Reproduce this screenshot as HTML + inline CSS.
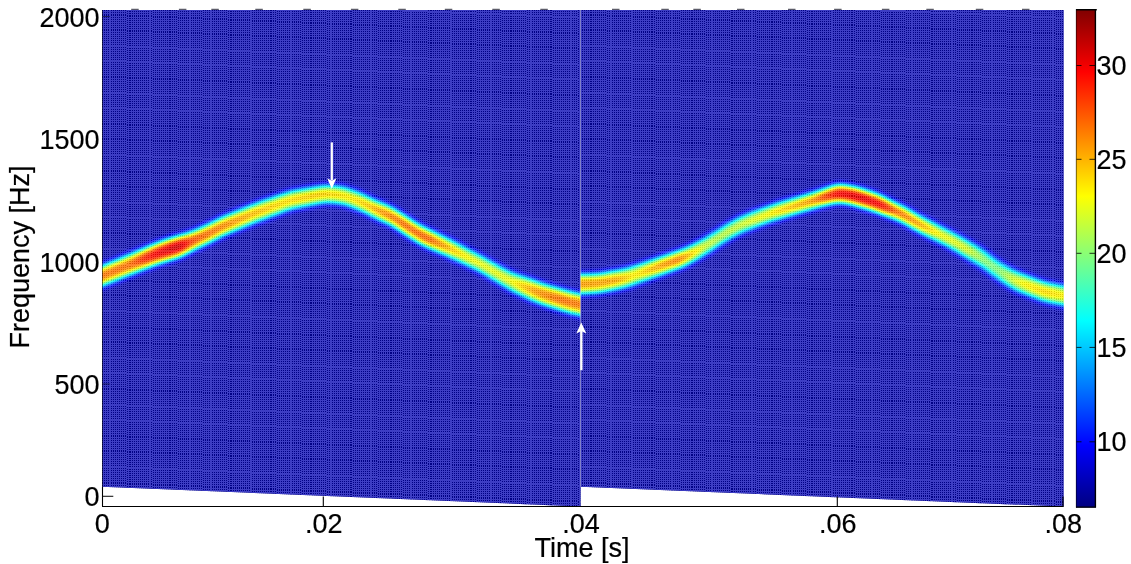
<!DOCTYPE html>
<html><head><meta charset="utf-8"><title>Spectrogram</title>
<style>
html,body{margin:0;padding:0;background:#fff;}
body{width:1131px;height:564px;position:relative;overflow:hidden;font-family:"Liberation Sans",sans-serif;}
svg{position:absolute;left:0;top:0;}
#mesh{position:absolute;left:0;top:0;width:1131px;height:564px;
-webkit-mask-image:repeating-linear-gradient(90deg,#000 0,#000 1.0525px,transparent 1.0525px,transparent 2.105px),repeating-linear-gradient(180deg,#000 0,#000 1.0685px,transparent 1.0685px,transparent 2.137px),repeating-linear-gradient(180deg,#000 0,#000 1.0685px,transparent 1.0685px,transparent 2.137px),repeating-linear-gradient(180deg,#000 0,#000 1.0685px,transparent 1.0685px,transparent 2.137px),repeating-linear-gradient(180deg,#000 0,#000 1.0685px,transparent 1.0685px,transparent 2.137px),repeating-linear-gradient(180deg,#000 0,#000 1.0685px,transparent 1.0685px,transparent 2.137px),repeating-linear-gradient(180deg,#000 0,#000 1.0685px,transparent 1.0685px,transparent 2.137px),repeating-linear-gradient(180deg,#000 0,#000 1.0685px,transparent 1.0685px,transparent 2.137px),repeating-linear-gradient(180deg,#000 0,#000 1.0685px,transparent 1.0685px,transparent 2.137px),repeating-linear-gradient(180deg,#000 0,#000 1.0685px,transparent 1.0685px,transparent 2.137px),repeating-linear-gradient(180deg,#000 0,#000 1.0685px,transparent 1.0685px,transparent 2.137px),repeating-linear-gradient(180deg,#000 0,#000 1.0685px,transparent 1.0685px,transparent 2.137px),repeating-linear-gradient(180deg,#000 0,#000 1.0685px,transparent 1.0685px,transparent 2.137px),repeating-linear-gradient(180deg,#000 0,#000 1.0685px,transparent 1.0685px,transparent 2.137px),repeating-linear-gradient(180deg,#000 0,#000 1.0685px,transparent 1.0685px,transparent 2.137px),repeating-linear-gradient(180deg,#000 0,#000 1.0685px,transparent 1.0685px,transparent 2.137px),repeating-linear-gradient(180deg,#000 0,#000 1.0685px,transparent 1.0685px,transparent 2.137px),repeating-linear-gradient(180deg,#000 0,#000 1.0685px,transparent 1.0685px,transparent 2.137px),repeating-linear-gradient(180deg,#000 0,#000 1.0685px,transparent 1.0685px,transparent 2.137px),repeating-linear-gradient(180deg,#000 0,#000 1.0685px,transparent 1.0685px,transparent 2.137px),repeating-linear-gradient(180deg,#000 0,#000 1.0685px,transparent 1.0685px,transparent 2.137px),repeating-linear-gradient(180deg,#000 0,#000 1.0685px,transparent 1.0685px,transparent 2.137px),repeating-linear-gradient(180deg,#000 0,#000 1.0685px,transparent 1.0685px,transparent 2.137px),repeating-linear-gradient(180deg,#000 0,#000 1.0685px,transparent 1.0685px,transparent 2.137px),repeating-linear-gradient(180deg,#000 0,#000 1.0685px,transparent 1.0685px,transparent 2.137px),repeating-linear-gradient(180deg,#000 0,#000 1.0685px,transparent 1.0685px,transparent 2.137px),repeating-linear-gradient(180deg,#000 0,#000 1.0685px,transparent 1.0685px,transparent 2.137px),repeating-linear-gradient(180deg,#000 0,#000 1.0685px,transparent 1.0685px,transparent 2.137px),repeating-linear-gradient(180deg,#000 0,#000 1.0685px,transparent 1.0685px,transparent 2.137px),repeating-linear-gradient(180deg,#000 0,#000 1.0685px,transparent 1.0685px,transparent 2.137px),repeating-linear-gradient(180deg,#000 0,#000 1.0685px,transparent 1.0685px,transparent 2.137px),repeating-linear-gradient(180deg,#000 0,#000 1.0685px,transparent 1.0685px,transparent 2.137px),repeating-linear-gradient(180deg,#000 0,#000 1.0685px,transparent 1.0685px,transparent 2.137px),repeating-linear-gradient(180deg,#000 0,#000 1.0685px,transparent 1.0685px,transparent 2.137px),repeating-linear-gradient(180deg,#000 0,#000 1.0685px,transparent 1.0685px,transparent 2.137px),repeating-linear-gradient(180deg,#000 0,#000 1.0685px,transparent 1.0685px,transparent 2.137px),repeating-linear-gradient(180deg,#000 0,#000 1.0685px,transparent 1.0685px,transparent 2.137px),repeating-linear-gradient(180deg,#000 0,#000 1.0685px,transparent 1.0685px,transparent 2.137px),repeating-linear-gradient(180deg,#000 0,#000 1.0685px,transparent 1.0685px,transparent 2.137px),repeating-linear-gradient(180deg,#000 0,#000 1.0685px,transparent 1.0685px,transparent 2.137px),repeating-linear-gradient(180deg,#000 0,#000 1.0685px,transparent 1.0685px,transparent 2.137px);mask-image:repeating-linear-gradient(90deg,#000 0,#000 1.0525px,transparent 1.0525px,transparent 2.105px),repeating-linear-gradient(180deg,#000 0,#000 1.0685px,transparent 1.0685px,transparent 2.137px),repeating-linear-gradient(180deg,#000 0,#000 1.0685px,transparent 1.0685px,transparent 2.137px),repeating-linear-gradient(180deg,#000 0,#000 1.0685px,transparent 1.0685px,transparent 2.137px),repeating-linear-gradient(180deg,#000 0,#000 1.0685px,transparent 1.0685px,transparent 2.137px),repeating-linear-gradient(180deg,#000 0,#000 1.0685px,transparent 1.0685px,transparent 2.137px),repeating-linear-gradient(180deg,#000 0,#000 1.0685px,transparent 1.0685px,transparent 2.137px),repeating-linear-gradient(180deg,#000 0,#000 1.0685px,transparent 1.0685px,transparent 2.137px),repeating-linear-gradient(180deg,#000 0,#000 1.0685px,transparent 1.0685px,transparent 2.137px),repeating-linear-gradient(180deg,#000 0,#000 1.0685px,transparent 1.0685px,transparent 2.137px),repeating-linear-gradient(180deg,#000 0,#000 1.0685px,transparent 1.0685px,transparent 2.137px),repeating-linear-gradient(180deg,#000 0,#000 1.0685px,transparent 1.0685px,transparent 2.137px),repeating-linear-gradient(180deg,#000 0,#000 1.0685px,transparent 1.0685px,transparent 2.137px),repeating-linear-gradient(180deg,#000 0,#000 1.0685px,transparent 1.0685px,transparent 2.137px),repeating-linear-gradient(180deg,#000 0,#000 1.0685px,transparent 1.0685px,transparent 2.137px),repeating-linear-gradient(180deg,#000 0,#000 1.0685px,transparent 1.0685px,transparent 2.137px),repeating-linear-gradient(180deg,#000 0,#000 1.0685px,transparent 1.0685px,transparent 2.137px),repeating-linear-gradient(180deg,#000 0,#000 1.0685px,transparent 1.0685px,transparent 2.137px),repeating-linear-gradient(180deg,#000 0,#000 1.0685px,transparent 1.0685px,transparent 2.137px),repeating-linear-gradient(180deg,#000 0,#000 1.0685px,transparent 1.0685px,transparent 2.137px),repeating-linear-gradient(180deg,#000 0,#000 1.0685px,transparent 1.0685px,transparent 2.137px),repeating-linear-gradient(180deg,#000 0,#000 1.0685px,transparent 1.0685px,transparent 2.137px),repeating-linear-gradient(180deg,#000 0,#000 1.0685px,transparent 1.0685px,transparent 2.137px),repeating-linear-gradient(180deg,#000 0,#000 1.0685px,transparent 1.0685px,transparent 2.137px),repeating-linear-gradient(180deg,#000 0,#000 1.0685px,transparent 1.0685px,transparent 2.137px),repeating-linear-gradient(180deg,#000 0,#000 1.0685px,transparent 1.0685px,transparent 2.137px),repeating-linear-gradient(180deg,#000 0,#000 1.0685px,transparent 1.0685px,transparent 2.137px),repeating-linear-gradient(180deg,#000 0,#000 1.0685px,transparent 1.0685px,transparent 2.137px),repeating-linear-gradient(180deg,#000 0,#000 1.0685px,transparent 1.0685px,transparent 2.137px),repeating-linear-gradient(180deg,#000 0,#000 1.0685px,transparent 1.0685px,transparent 2.137px),repeating-linear-gradient(180deg,#000 0,#000 1.0685px,transparent 1.0685px,transparent 2.137px),repeating-linear-gradient(180deg,#000 0,#000 1.0685px,transparent 1.0685px,transparent 2.137px),repeating-linear-gradient(180deg,#000 0,#000 1.0685px,transparent 1.0685px,transparent 2.137px),repeating-linear-gradient(180deg,#000 0,#000 1.0685px,transparent 1.0685px,transparent 2.137px),repeating-linear-gradient(180deg,#000 0,#000 1.0685px,transparent 1.0685px,transparent 2.137px),repeating-linear-gradient(180deg,#000 0,#000 1.0685px,transparent 1.0685px,transparent 2.137px),repeating-linear-gradient(180deg,#000 0,#000 1.0685px,transparent 1.0685px,transparent 2.137px),repeating-linear-gradient(180deg,#000 0,#000 1.0685px,transparent 1.0685px,transparent 2.137px),repeating-linear-gradient(180deg,#000 0,#000 1.0685px,transparent 1.0685px,transparent 2.137px),repeating-linear-gradient(180deg,#000 0,#000 1.0685px,transparent 1.0685px,transparent 2.137px),repeating-linear-gradient(180deg,#000 0,#000 1.0685px,transparent 1.0685px,transparent 2.137px);
-webkit-mask-size:100% 100%,25px 640px,25px 640px,25px 640px,25px 640px,25px 640px,25px 640px,25px 640px,25px 640px,25px 640px,25px 640px,25px 640px,25px 640px,25px 640px,25px 640px,25px 640px,25px 640px,25px 640px,25px 640px,25px 640px,4px 640px,25px 640px,25px 640px,25px 640px,25px 640px,25px 640px,25px 640px,25px 640px,25px 640px,25px 640px,25px 640px,25px 640px,25px 640px,25px 640px,25px 640px,25px 640px,25px 640px,25px 640px,25px 640px,25px 640px,8px 640px;mask-size:100% 100%,25px 640px,25px 640px,25px 640px,25px 640px,25px 640px,25px 640px,25px 640px,25px 640px,25px 640px,25px 640px,25px 640px,25px 640px,25px 640px,25px 640px,25px 640px,25px 640px,25px 640px,25px 640px,25px 640px,4px 640px,25px 640px,25px 640px,25px 640px,25px 640px,25px 640px,25px 640px,25px 640px,25px 640px,25px 640px,25px 640px,25px 640px,25px 640px,25px 640px,25px 640px,25px 640px,25px 640px,25px 640px,25px 640px,25px 640px,8px 640px;
-webkit-mask-position:0 0,102px -40px,127px -39px,152px -38px,177px -37px,202px -36px,227px -35px,252px -34px,277px -33px,302px -32px,327px -31px,352px -30px,377px -29px,402px -28px,427px -27px,452px -26px,477px -25px,502px -24px,527px -23px,552px -22px,577px -21px,581px -40px,606px -39px,631px -38px,656px -37px,681px -36px,706px -35px,731px -34px,756px -33px,781px -32px,806px -31px,831px -30px,856px -29px,881px -28px,906px -27px,931px -26px,956px -25px,981px -24px,1006px -23px,1031px -22px,1056px -21px;mask-position:0 0,102px -40px,127px -39px,152px -38px,177px -37px,202px -36px,227px -35px,252px -34px,277px -33px,302px -32px,327px -31px,352px -30px,377px -29px,402px -28px,427px -27px,452px -26px,477px -25px,502px -24px,527px -23px,552px -22px,577px -21px,581px -40px,606px -39px,631px -38px,656px -37px,681px -36px,706px -35px,731px -34px,756px -33px,781px -32px,806px -31px,831px -30px,856px -29px,881px -28px,906px -27px,931px -26px,956px -25px,981px -24px,1006px -23px,1031px -22px,1056px -21px;
-webkit-mask-repeat:no-repeat;mask-repeat:no-repeat;}
text{font-family:"Liberation Sans",sans-serif;font-size:27px;fill:#000;stroke:#000;stroke-width:.2px;}
</style></head><body>

<svg width="1131" height="564" viewBox="0 0 1131 564">
<defs>
<filter id="fd" filterUnits="userSpaceOnUse" x="0" y="0" width="1131" height="564" color-interpolation-filters="sRGB">
<feGaussianBlur stdDeviation="3"/>
<feComponentTransfer><feFuncR type="linear" slope="1"/><feFuncG type="linear" slope="1"/><feFuncB type="linear" slope="1"/></feComponentTransfer>
<feComponentTransfer>
<feFuncR type="table" tableValues="0.000 0.000 0.000 0.000 0.000 0.000 0.000 0.000 0.000 0.000 0.000 0.000 0.000 0.000 0.000 0.000 0.000 0.000 0.000 0.000 0.000 0.000 0.000 0.000 0.000 0.000 0.000 0.000 0.000 0.000 0.000 0.000 0.036 0.072 0.108 0.144 0.180 0.216 0.252 0.288 0.324 0.360 0.396 0.433 0.469 0.505 0.541 0.577 0.613 0.649 0.685 0.721 0.757 0.793 0.829 0.860 0.860 0.860 0.860 0.860 0.860 0.860 0.860 0.860 0.860 0.860 0.860 0.860 0.860 0.860 0.860 0.860 0.860 0.860 0.860 0.860 0.860 0.860 0.860 0.849 0.813 0.777 0.741 0.705 0.669 0.633 0.597 0.561 0.525 0.489 0.453 0.430 0.430 0.430 0.430 0.430"/>
<feFuncG type="table" tableValues="0.000 0.000 0.000 0.000 0.000 0.000 0.000 0.000 0.027 0.060 0.094 0.127 0.162 0.197 0.232 0.268 0.305 0.341 0.379 0.416 0.454 0.492 0.530 0.568 0.605 0.642 0.679 0.716 0.752 0.788 0.824 0.860 0.860 0.860 0.860 0.860 0.860 0.860 0.860 0.860 0.860 0.860 0.860 0.860 0.860 0.860 0.860 0.860 0.860 0.860 0.860 0.860 0.860 0.860 0.860 0.855 0.819 0.783 0.747 0.711 0.674 0.638 0.602 0.566 0.530 0.494 0.458 0.422 0.386 0.350 0.314 0.278 0.242 0.206 0.170 0.134 0.098 0.061 0.025 0.000 0.000 0.000 0.000 0.000 0.000 0.000 0.000 0.000 0.000 0.000 0.000 0.000 0.000 0.000 0.000 0.000"/>
<feFuncB type="table" tableValues="0.525 0.557 0.589 0.623 0.657 0.691 0.727 0.764 0.774 0.779 0.785 0.791 0.797 0.803 0.809 0.815 0.821 0.827 0.833 0.838 0.843 0.847 0.851 0.854 0.857 0.859 0.860 0.860 0.860 0.860 0.860 0.860 0.824 0.788 0.752 0.716 0.680 0.644 0.608 0.572 0.536 0.500 0.464 0.427 0.391 0.355 0.319 0.283 0.247 0.211 0.175 0.139 0.103 0.067 0.031 0.000 0.000 0.000 0.000 0.000 0.000 0.000 0.000 0.000 0.000 0.000 0.000 0.000 0.000 0.000 0.000 0.000 0.000 0.000 0.000 0.000 0.000 0.000 0.000 0.000 0.000 0.000 0.000 0.000 0.000 0.000 0.000 0.000 0.000 0.000 0.000 0.000 0.000 0.000 0.000 0.000"/>
</feComponentTransfer>
</filter>
<filter id="fl" filterUnits="userSpaceOnUse" x="0" y="0" width="1131" height="564" color-interpolation-filters="sRGB">
<feGaussianBlur stdDeviation="3"/>
<feComponentTransfer><feFuncR type="linear" slope="1"/><feFuncG type="linear" slope="1"/><feFuncB type="linear" slope="1"/></feComponentTransfer>
<feComponentTransfer>
<feFuncR type="table" tableValues="0.240 0.240 0.239 0.238 0.236 0.234 0.232 0.230 0.227 0.224 0.221 0.218 0.215 0.211 0.208 0.204 0.201 0.198 0.195 0.192 0.189 0.187 0.185 0.183 0.182 0.181 0.180 0.180 0.180 0.180 0.180 0.180 0.214 0.249 0.283 0.317 0.352 0.386 0.420 0.455 0.489 0.524 0.558 0.592 0.627 0.661 0.696 0.730 0.764 0.799 0.833 0.867 0.902 0.936 0.971 1.000 1.000 1.000 1.000 1.000 1.000 1.000 1.000 1.000 1.000 1.000 1.000 1.000 1.000 1.000 1.000 1.000 1.000 1.000 1.000 1.000 1.000 1.000 1.000 0.990 0.955 0.921 0.887 0.852 0.818 0.784 0.749 0.715 0.680 0.646 0.612 0.590 0.590 0.590 0.590 0.590"/>
<feFuncG type="table" tableValues="0.240 0.240 0.239 0.238 0.236 0.234 0.232 0.230 0.254 0.284 0.314 0.344 0.374 0.405 0.435 0.466 0.497 0.529 0.561 0.593 0.626 0.659 0.692 0.726 0.760 0.794 0.828 0.862 0.897 0.931 0.965 1.000 1.000 1.000 1.000 1.000 1.000 1.000 1.000 1.000 1.000 1.000 1.000 1.000 1.000 1.000 1.000 1.000 1.000 1.000 1.000 1.000 1.000 1.000 1.000 0.995 0.961 0.926 0.892 0.857 0.823 0.789 0.754 0.720 0.686 0.651 0.617 0.582 0.548 0.514 0.479 0.445 0.411 0.376 0.342 0.307 0.273 0.239 0.204 0.180 0.180 0.180 0.180 0.180 0.180 0.180 0.180 0.180 0.180 0.180 0.180 0.180 0.180 0.180 0.180 0.180"/>
<feFuncB type="table" tableValues="0.772 0.804 0.836 0.867 0.899 0.931 0.963 0.995 1.000 1.000 1.000 1.000 1.000 1.000 1.000 1.000 1.000 1.000 1.000 1.000 1.000 1.000 1.000 1.000 1.000 1.000 1.000 1.000 1.000 1.000 1.000 1.000 0.966 0.931 0.897 0.863 0.828 0.794 0.760 0.725 0.691 0.656 0.622 0.588 0.553 0.519 0.484 0.450 0.416 0.381 0.347 0.313 0.278 0.244 0.209 0.180 0.180 0.180 0.180 0.180 0.180 0.180 0.180 0.180 0.180 0.180 0.180 0.180 0.180 0.180 0.180 0.180 0.180 0.180 0.180 0.180 0.180 0.180 0.180 0.180 0.180 0.180 0.180 0.180 0.180 0.180 0.180 0.180 0.180 0.180 0.180 0.180 0.180 0.180 0.180 0.180"/>
</feComponentTransfer>
</filter>
<clipPath id="cl"><path d="M102.0 9.9L580.6 9.9L580.6 506.5L102.0 486.7Z"/></clipPath>
<clipPath id="cr"><path d="M580.6 9.9L1063.5 9.9L1063.5 506.5L580.6 486.7Z"/></clipPath>
<linearGradient id="cb" x1="0" y1="0" x2="0" y2="1">
<stop offset="0" stop-color="rgb(128,0,0)"/><stop offset="0.125" stop-color="rgb(255,0,0)"/><stop offset="0.375" stop-color="rgb(255,255,0)"/><stop offset="0.625" stop-color="rgb(0,255,255)"/><stop offset="0.875" stop-color="rgb(0,0,255)"/><stop offset="1" stop-color="rgb(0,0,128)"/>
</linearGradient>
<linearGradient id="al" gradientUnits="userSpaceOnUse" x1="60" y1="0" x2="624" y2="0"><stop offset="0.0745" stop-color="rgb(191,191,191)"/><stop offset="0.1241" stop-color="rgb(193,193,193)"/><stop offset="0.1560" stop-color="rgb(217,217,217)"/><stop offset="0.1862" stop-color="rgb(228,228,228)"/><stop offset="0.2128" stop-color="rgb(234,234,234)"/><stop offset="0.2305" stop-color="rgb(209,209,209)"/><stop offset="0.2447" stop-color="rgb(199,199,199)"/><stop offset="0.2837" stop-color="rgb(189,189,189)"/><stop offset="0.3457" stop-color="rgb(172,172,172)"/><stop offset="0.3989" stop-color="rgb(164,164,164)"/><stop offset="0.4610" stop-color="rgb(169,169,169)"/><stop offset="0.5142" stop-color="rgb(161,161,161)"/><stop offset="0.5496" stop-color="rgb(174,174,174)"/><stop offset="0.5851" stop-color="rgb(191,191,191)"/><stop offset="0.6117" stop-color="rgb(199,199,199)"/><stop offset="0.6560" stop-color="rgb(199,199,199)"/><stop offset="0.6915" stop-color="rgb(174,174,174)"/><stop offset="0.7270" stop-color="rgb(158,158,158)"/><stop offset="0.7979" stop-color="rgb(153,153,153)"/><stop offset="0.8422" stop-color="rgb(180,180,180)"/><stop offset="0.8865" stop-color="rgb(191,191,191)"/><stop offset="0.9220" stop-color="rgb(188,188,188)"/></linearGradient>
<linearGradient id="ar" gradientUnits="userSpaceOnUse" x1="540" y1="0" x2="1104" y2="0"><stop offset="0.0745" stop-color="rgb(180,180,180)"/><stop offset="0.1330" stop-color="rgb(177,177,177)"/><stop offset="0.1684" stop-color="rgb(158,158,158)"/><stop offset="0.2128" stop-color="rgb(180,180,180)"/><stop offset="0.2447" stop-color="rgb(191,191,191)"/><stop offset="0.2695" stop-color="rgb(169,169,169)"/><stop offset="0.2926" stop-color="rgb(148,148,148)"/><stop offset="0.3191" stop-color="rgb(142,142,142)"/><stop offset="0.3635" stop-color="rgb(148,148,148)"/><stop offset="0.3989" stop-color="rgb(158,158,158)"/><stop offset="0.4433" stop-color="rgb(174,174,174)"/><stop offset="0.4823" stop-color="rgb(185,185,185)"/><stop offset="0.5071" stop-color="rgb(212,212,212)"/><stop offset="0.5284" stop-color="rgb(225,225,225)"/><stop offset="0.5638" stop-color="rgb(231,231,231)"/><stop offset="0.6064" stop-color="rgb(225,225,225)"/><stop offset="0.6294" stop-color="rgb(201,201,201)"/><stop offset="0.6649" stop-color="rgb(188,188,188)"/><stop offset="0.7092" stop-color="rgb(158,158,158)"/><stop offset="0.7571" stop-color="rgb(150,150,150)"/><stop offset="0.7837" stop-color="rgb(129,129,129)"/><stop offset="0.8103" stop-color="rgb(123,123,123)"/><stop offset="0.8333" stop-color="rgb(142,142,142)"/><stop offset="0.8599" stop-color="rgb(158,158,158)"/><stop offset="0.8954" stop-color="rgb(164,164,164)"/><stop offset="0.9273" stop-color="rgb(158,158,158)"/></linearGradient>
<g id="gl"><rect x="0" y="0" width="1131" height="564" fill="#000"/>
<path d="M60.0 282.4L63.0 281.6L66.0 280.5L69.0 279.2L72.0 278.0L75.0 276.8L78.0 275.6L81.0 274.3L84.0 273.1L87.0 271.9L90.0 270.6L93.0 269.4L96.0 268.2L99.0 267.0L102.0 265.7L105.0 264.5L108.0 263.3L111.0 262.0L114.0 260.8L117.0 259.5L120.0 258.3L123.0 257.0L126.0 255.8L129.0 254.5L132.0 253.3L135.0 252.1L138.0 250.8L141.0 249.6L144.0 248.3L147.0 247.0L150.0 245.8L153.0 244.6L156.0 243.3L159.0 242.2L162.0 241.1L165.0 240.1L168.0 239.1L171.0 238.1L174.0 237.2L177.0 236.2L180.0 235.2L183.0 234.5L186.0 233.6L189.0 232.6L192.0 231.4L195.0 230.1L198.0 228.8L201.0 227.4L204.0 226.0L207.0 224.6L210.0 223.2L213.0 221.7L216.0 220.1L219.0 218.5L222.0 217.1L225.0 215.8L228.0 214.5L231.0 213.3L234.0 212.0L237.0 210.8L240.0 209.5L243.0 208.3L246.0 207.0L249.0 205.8L252.0 204.6L255.0 203.4L258.0 202.2L261.0 201.1L264.0 200.1L267.0 199.0L270.0 197.9L273.0 196.9L276.0 195.8L279.0 194.8L282.0 193.8L285.0 192.7L288.0 191.8L291.0 190.9L294.0 190.2L297.0 189.7L300.0 189.2L303.0 188.7L306.0 188.2L309.0 187.7L312.0 187.2L315.0 186.8L318.0 186.3L321.0 185.8L324.0 185.5L327.0 185.3L330.0 185.4L333.0 185.6L336.0 185.9L339.0 186.2L342.0 186.6L345.0 187.3L348.0 188.2L351.0 189.3L354.0 190.4L357.0 191.6L360.0 192.8L363.0 194.1L366.0 195.5L369.0 196.9L372.0 198.4L375.0 199.9L378.0 201.3L381.0 202.6L384.0 203.7L387.0 205.0L390.0 206.3L393.0 208.0L396.0 209.8L399.0 211.8L402.0 213.7L405.0 215.6L408.0 217.6L411.0 219.5L414.0 221.4L417.0 223.3L420.0 225.0L423.0 226.6L426.0 228.1L429.0 229.5L432.0 230.9L435.0 232.3L438.0 233.7L441.0 235.2L444.0 236.6L447.0 238.0L450.0 239.4L453.0 240.9L456.0 242.5L459.0 244.0L462.0 245.6L465.0 247.2L468.0 248.7L471.0 250.3L474.0 251.8L477.0 253.4L480.0 255.1L483.0 256.6L486.0 258.3L489.0 259.9L492.0 261.6L495.0 263.2L498.0 264.9L501.0 266.5L504.0 268.2L507.0 269.8L510.0 271.3L513.0 272.6L516.0 273.7L519.0 274.8L522.0 275.8L525.0 276.8L528.0 277.9L531.0 279.0L534.0 280.1L537.0 281.3L540.0 282.4L543.0 283.4L546.0 284.4L549.0 285.3L552.0 286.2L555.0 287.1L558.0 288.0L561.0 288.8L564.0 289.7L567.0 290.6L570.0 291.4L573.0 292.1L576.0 292.8L579.0 293.4L582.0 294.0L585.0 294.6L588.0 295.2L591.0 295.8L594.0 296.4L597.0 297.0L600.0 297.6L603.0 298.2L606.0 298.8L609.0 299.4L612.0 300.0L615.0 300.6L618.0 301.2L621.0 301.7L624.0 302.1L624.0 324.0L621.0 323.6L618.0 323.0L615.0 322.4L612.0 321.8L609.0 321.2L606.0 320.6L603.0 320.0L600.0 319.4L597.0 318.8L594.0 318.2L591.0 317.6L588.0 317.0L585.0 316.4L582.0 315.8L579.0 315.2L576.0 314.6L573.0 313.9L570.0 313.2L567.0 312.3L564.0 311.4L561.0 310.5L558.0 309.6L555.0 308.6L552.0 307.7L549.0 306.8L546.0 305.8L543.0 304.9L540.0 303.8L537.0 302.7L534.0 301.5L531.0 300.2L528.0 298.9L525.0 297.6L522.0 296.2L519.0 294.8L516.0 293.4L513.0 291.9L510.0 290.3L507.0 288.6L504.0 286.8L501.0 285.0L498.0 283.1L495.0 281.3L492.0 279.4L489.0 277.6L486.0 275.7L483.0 273.9L480.0 272.2L477.0 270.6L474.0 269.1L471.0 267.7L468.0 266.2L465.0 264.7L462.0 263.3L459.0 261.8L456.0 260.4L453.0 258.9L450.0 257.5L447.0 256.1L444.0 254.8L441.0 253.5L438.0 252.2L435.0 250.9L432.0 249.6L429.0 248.2L426.0 246.9L423.0 245.5L420.0 244.0L417.0 242.2L414.0 240.3L411.0 238.3L408.0 236.4L405.0 234.4L402.0 232.4L399.0 230.4L396.0 228.4L393.0 226.5L390.0 224.8L387.0 223.4L384.0 222.2L381.0 220.9L378.0 219.6L375.0 218.1L372.0 216.6L369.0 215.1L366.0 213.6L363.0 212.1L360.0 210.8L357.0 209.6L354.0 208.4L351.0 207.2L348.0 206.0L345.0 205.1L342.0 204.4L339.0 203.9L336.0 203.5L333.0 203.2L330.0 202.9L327.0 202.8L324.0 203.0L321.0 203.5L318.0 204.0L315.0 204.6L312.0 205.2L309.0 205.8L306.0 206.4L303.0 207.0L300.0 207.6L297.0 208.2L294.0 208.8L291.0 209.6L288.0 210.5L285.0 211.6L282.0 212.7L279.0 213.9L276.0 215.0L273.0 216.1L270.0 217.3L267.0 218.4L264.0 219.4L261.0 220.5L258.0 221.6L255.0 222.8L252.0 224.0L249.0 225.2L246.0 226.4L243.0 227.7L240.0 228.9L237.0 230.1L234.0 231.4L231.0 232.6L228.0 233.9L225.0 235.1L222.0 236.5L219.0 237.9L216.0 239.5L213.0 241.0L210.0 242.5L207.0 244.0L204.0 245.4L201.0 246.8L198.0 248.2L195.0 249.6L192.0 251.1L189.0 252.6L186.0 254.2L183.0 255.6L180.0 257.0L177.0 258.0L174.0 258.9L171.0 259.9L168.0 260.8L165.0 261.8L162.0 262.7L159.0 263.6L156.0 264.7L153.0 265.8L150.0 266.9L147.0 268.2L144.0 269.4L141.0 270.5L138.0 271.7L135.0 272.9L132.0 274.2L129.0 275.4L126.0 276.6L123.0 277.8L120.0 279.0L117.0 280.2L114.0 281.4L111.0 282.6L108.0 283.8L105.0 285.0L102.0 286.3L99.0 287.5L96.0 288.7L93.0 289.9L90.0 291.2L87.0 292.4L84.0 293.6L81.0 294.9L78.0 296.1L75.0 297.3L72.0 298.5L69.0 299.8L66.0 301.0L63.0 302.1L60.0 302.9Z" fill="url(#al)" fill-opacity="0.7"/>
<path d="M60.0 286.2L63.0 285.3L66.0 284.2L69.0 283.0L72.0 281.8L75.0 280.6L78.0 279.3L81.0 278.1L84.0 276.9L87.0 275.7L90.0 274.4L93.0 273.2L96.0 272.0L99.0 270.7L102.0 269.5L105.0 268.3L108.0 267.0L111.0 265.8L114.0 264.6L117.0 263.3L120.0 262.1L123.0 260.9L126.0 259.6L129.0 258.4L132.0 257.1L135.0 255.9L138.0 254.7L141.0 253.4L144.0 252.2L147.0 250.9L150.0 249.7L153.0 248.5L156.0 247.3L159.0 246.1L162.0 245.1L165.0 244.1L168.0 243.1L171.0 242.1L174.0 241.2L177.0 240.2L180.0 239.2L183.0 238.4L186.0 237.4L189.0 236.3L192.0 235.0L195.0 233.7L198.0 232.3L201.0 231.0L204.0 229.6L207.0 228.2L210.0 226.7L213.0 225.2L216.0 223.7L219.0 222.1L222.0 220.7L225.0 219.3L228.0 218.1L231.0 216.8L234.0 215.6L237.0 214.3L240.0 213.1L243.0 211.9L246.0 210.6L249.0 209.4L252.0 208.1L255.0 207.0L258.0 205.8L261.0 204.7L264.0 203.6L267.0 202.5L270.0 201.5L273.0 200.4L276.0 199.4L279.0 198.3L282.0 197.3L285.0 196.2L288.0 195.2L291.0 194.3L294.0 193.7L297.0 193.1L300.0 192.6L303.0 192.1L306.0 191.6L309.0 191.1L312.0 190.6L315.0 190.0L318.0 189.5L321.0 189.1L324.0 188.7L327.0 188.6L330.0 188.6L333.0 188.8L336.0 189.1L339.0 189.4L342.0 189.9L345.0 190.6L348.0 191.5L351.0 192.6L354.0 193.7L357.0 194.9L360.0 196.1L363.0 197.4L366.0 198.8L369.0 200.3L372.0 201.7L375.0 203.2L378.0 204.6L381.0 205.9L384.0 207.1L387.0 208.4L390.0 209.7L393.0 211.4L396.0 213.2L399.0 215.2L402.0 217.1L405.0 219.1L408.0 221.0L411.0 223.0L414.0 224.9L417.0 226.8L420.0 228.5L423.0 230.1L426.0 231.6L429.0 233.0L432.0 234.4L435.0 235.8L438.0 237.1L441.0 238.5L444.0 239.9L447.0 241.3L450.0 242.8L453.0 244.3L456.0 245.8L459.0 247.3L462.0 248.9L465.0 250.4L468.0 251.9L471.0 253.5L474.0 255.0L477.0 256.6L480.0 258.2L483.0 259.8L486.0 261.5L489.0 263.2L492.0 264.9L495.0 266.6L498.0 268.2L501.0 269.9L504.0 271.6L507.0 273.3L510.0 274.8L513.0 276.2L516.0 277.4L519.0 278.5L522.0 279.6L525.0 280.7L528.0 281.8L531.0 282.9L534.0 284.1L537.0 285.2L540.0 286.3L543.0 287.4L546.0 288.3L549.0 289.2L552.0 290.1L555.0 291.0L558.0 291.9L561.0 292.8L564.0 293.7L567.0 294.6L570.0 295.4L573.0 296.2L576.0 296.8L579.0 297.4L582.0 298.0L585.0 298.6L588.0 299.2L591.0 299.8L594.0 300.4L597.0 301.0L600.0 301.6L603.0 302.2L606.0 302.8L609.0 303.4L612.0 304.0L615.0 304.6L618.0 305.2L621.0 305.7L624.0 306.1L624.0 319.9L621.0 319.5L618.0 319.0L615.0 318.4L612.0 317.8L609.0 317.2L606.0 316.6L603.0 316.0L600.0 315.4L597.0 314.8L594.0 314.2L591.0 313.6L588.0 313.0L585.0 312.4L582.0 311.8L579.0 311.2L576.0 310.6L573.0 309.9L570.0 309.2L567.0 308.3L564.0 307.4L561.0 306.5L558.0 305.6L555.0 304.7L552.0 303.7L549.0 302.8L546.0 301.9L543.0 300.9L540.0 299.9L537.0 298.7L534.0 297.5L531.0 296.3L528.0 295.0L525.0 293.7L522.0 292.4L519.0 291.1L516.0 289.8L513.0 288.4L510.0 286.8L507.0 285.2L504.0 283.4L501.0 281.6L498.0 279.8L495.0 278.0L492.0 276.1L489.0 274.3L486.0 272.5L483.0 270.7L480.0 269.0L477.0 267.4L474.0 265.9L471.0 264.5L468.0 263.0L465.0 261.5L462.0 260.0L459.0 258.5L456.0 257.1L453.0 255.6L450.0 254.2L447.0 252.8L444.0 251.4L441.0 250.1L438.0 248.8L435.0 247.4L432.0 246.1L429.0 244.8L426.0 243.5L423.0 242.1L420.0 240.5L417.0 238.8L414.0 236.8L411.0 234.9L408.0 232.9L405.0 230.9L402.0 228.9L399.0 227.0L396.0 225.0L393.0 223.1L390.0 221.4L387.0 220.0L384.0 218.8L381.0 217.5L378.0 216.2L375.0 214.8L372.0 213.3L369.0 211.7L366.0 210.2L363.0 208.8L360.0 207.5L357.0 206.2L354.0 205.0L351.0 203.9L348.0 202.7L345.0 201.8L342.0 201.1L339.0 200.6L336.0 200.3L333.0 200.0L330.0 199.7L327.0 199.6L324.0 199.8L321.0 200.2L318.0 200.7L315.0 201.3L312.0 201.9L309.0 202.5L306.0 203.0L303.0 203.6L300.0 204.2L297.0 204.8L294.0 205.4L291.0 206.1L288.0 207.1L285.0 208.1L282.0 209.2L279.0 210.4L276.0 211.5L273.0 212.6L270.0 213.7L267.0 214.8L264.0 215.9L261.0 217.0L258.0 218.1L255.0 219.2L252.0 220.4L249.0 221.6L246.0 222.8L243.0 224.1L240.0 225.3L237.0 226.6L234.0 227.8L231.0 229.1L228.0 230.3L225.0 231.6L222.0 232.9L219.0 234.3L216.0 235.9L213.0 237.5L210.0 239.0L207.0 240.4L204.0 241.8L201.0 243.2L198.0 244.6L195.0 246.0L192.0 247.5L189.0 248.9L186.0 250.4L183.0 251.7L180.0 253.0L177.0 254.0L174.0 254.9L171.0 255.9L168.0 256.8L165.0 257.8L162.0 258.7L159.0 259.7L156.0 260.7L153.0 261.9L150.0 263.0L147.0 264.3L144.0 265.5L141.0 266.7L138.0 267.9L135.0 269.1L132.0 270.3L129.0 271.5L126.0 272.7L123.0 274.0L120.0 275.2L117.0 276.4L114.0 277.6L111.0 278.8L108.0 280.0L105.0 281.3L102.0 282.5L99.0 283.7L96.0 284.9L93.0 286.2L90.0 287.4L87.0 288.6L84.0 289.8L81.0 291.1L78.0 292.3L75.0 293.5L72.0 294.8L69.0 296.0L66.0 297.2L63.0 298.3L60.0 299.1Z" fill="url(#al)" fill-opacity="0.667"/>
<path d="M60.0 289.7L63.0 288.8L66.0 287.8L69.0 286.5L72.0 285.3L75.0 284.1L78.0 282.8L81.0 281.6L84.0 280.4L87.0 279.2L90.0 277.9L93.0 276.7L96.0 275.5L99.0 274.3L102.0 273.0L105.0 271.8L108.0 270.6L111.0 269.3L114.0 268.1L117.0 266.9L120.0 265.6L123.0 264.4L126.0 263.2L129.0 261.9L132.0 260.7L135.0 259.5L138.0 258.3L141.0 257.0L144.0 255.8L147.0 254.5L150.0 253.3L153.0 252.1L156.0 250.9L159.0 249.8L162.0 248.8L165.0 247.8L168.0 246.8L171.0 245.9L174.0 244.9L177.0 243.9L180.0 242.9L183.0 242.0L186.0 240.9L189.0 239.7L192.0 238.4L195.0 237.0L198.0 235.7L201.0 234.3L204.0 232.9L207.0 231.5L210.0 230.1L213.0 228.6L216.0 227.0L219.0 225.4L222.0 224.0L225.0 222.6L228.0 221.4L231.0 220.1L234.0 218.9L237.0 217.7L240.0 216.4L243.0 215.2L246.0 213.9L249.0 212.7L252.0 211.5L255.0 210.3L258.0 209.1L261.0 208.0L264.0 206.9L267.0 205.9L270.0 204.8L273.0 203.7L276.0 202.6L279.0 201.6L282.0 200.5L285.0 199.4L288.0 198.4L291.0 197.5L294.0 196.8L297.0 196.2L300.0 195.7L303.0 195.2L306.0 194.7L309.0 194.1L312.0 193.6L315.0 193.1L318.0 192.6L321.0 192.1L324.0 191.7L327.0 191.5L330.0 191.6L333.0 191.9L336.0 192.1L339.0 192.5L342.0 192.9L345.0 193.6L348.0 194.5L351.0 195.6L354.0 196.8L357.0 198.0L360.0 199.2L363.0 200.5L366.0 201.9L369.0 203.4L372.0 204.9L375.0 206.3L378.0 207.8L381.0 209.1L384.0 210.3L387.0 211.5L390.0 212.9L393.0 214.6L396.0 216.4L399.0 218.4L402.0 220.3L405.0 222.3L408.0 224.2L411.0 226.2L414.0 228.1L417.0 230.0L420.0 231.8L423.0 233.4L426.0 234.8L429.0 236.2L432.0 237.5L435.0 238.9L438.0 240.3L441.0 241.7L444.0 243.0L447.0 244.4L450.0 245.9L453.0 247.3L456.0 248.8L459.0 250.4L462.0 251.9L465.0 253.4L468.0 254.9L471.0 256.5L474.0 258.0L477.0 259.5L480.0 261.1L483.0 262.8L486.0 264.5L489.0 266.2L492.0 267.9L495.0 269.6L498.0 271.4L501.0 273.1L504.0 274.8L507.0 276.5L510.0 278.1L513.0 279.5L516.0 280.7L519.0 281.9L522.0 283.1L525.0 284.2L528.0 285.4L531.0 286.5L534.0 287.7L537.0 288.9L540.0 290.0L543.0 291.0L546.0 292.0L549.0 292.9L552.0 293.8L555.0 294.7L558.0 295.6L561.0 296.5L564.0 297.4L567.0 298.3L570.0 299.1L573.0 299.9L576.0 300.5L579.0 301.1L582.0 301.7L585.0 302.3L588.0 302.9L591.0 303.5L594.0 304.1L597.0 304.7L600.0 305.3L603.0 305.9L606.0 306.5L609.0 307.1L612.0 307.7L615.0 308.3L618.0 308.9L621.0 309.5L624.0 309.9L624.0 316.2L621.0 315.8L618.0 315.3L615.0 314.7L612.0 314.1L609.0 313.5L606.0 312.9L603.0 312.3L600.0 311.7L597.0 311.1L594.0 310.5L591.0 309.9L588.0 309.3L585.0 308.7L582.0 308.1L579.0 307.5L576.0 306.8L573.0 306.2L570.0 305.4L567.0 304.6L564.0 303.7L561.0 302.8L558.0 301.9L555.0 301.0L552.0 300.1L549.0 299.1L546.0 298.2L543.0 297.2L540.0 296.2L537.0 295.1L534.0 293.9L531.0 292.7L528.0 291.4L525.0 290.2L522.0 288.9L519.0 287.7L516.0 286.4L513.0 285.1L510.0 283.6L507.0 281.9L504.0 280.2L501.0 278.4L498.0 276.6L495.0 274.9L492.0 273.1L489.0 271.3L486.0 269.5L483.0 267.8L480.0 266.1L477.0 264.5L474.0 263.0L471.0 261.5L468.0 260.0L465.0 258.5L462.0 257.0L459.0 255.5L456.0 254.0L453.0 252.5L450.0 251.1L447.0 249.7L444.0 248.3L441.0 247.0L438.0 245.6L435.0 244.3L432.0 242.9L429.0 241.6L426.0 240.2L423.0 238.8L420.0 237.3L417.0 235.5L414.0 233.6L411.0 231.6L408.0 229.7L405.0 227.7L402.0 225.7L399.0 223.8L396.0 221.8L393.0 219.9L390.0 218.3L387.0 216.9L384.0 215.6L381.0 214.4L378.0 213.1L375.0 211.6L372.0 210.1L369.0 208.6L366.0 207.1L363.0 205.7L360.0 204.4L357.0 203.2L354.0 202.0L351.0 200.8L348.0 199.7L345.0 198.8L342.0 198.1L339.0 197.6L336.0 197.3L333.0 196.9L330.0 196.7L327.0 196.6L324.0 196.8L321.0 197.2L318.0 197.7L315.0 198.3L312.0 198.8L309.0 199.4L306.0 199.9L303.0 200.5L300.0 201.0L297.0 201.6L294.0 202.2L291.0 202.9L288.0 203.9L285.0 204.9L282.0 206.0L279.0 207.1L276.0 208.2L273.0 209.3L270.0 210.4L267.0 211.5L264.0 212.6L261.0 213.6L258.0 214.7L255.0 215.9L252.0 217.1L249.0 218.3L246.0 219.5L243.0 220.8L240.0 222.0L237.0 223.3L234.0 224.5L231.0 225.7L228.0 227.0L225.0 228.3L222.0 229.6L219.0 231.0L216.0 232.6L213.0 234.2L210.0 235.7L207.0 237.1L204.0 238.5L201.0 239.9L198.0 241.3L195.0 242.7L192.0 244.1L189.0 245.5L186.0 246.9L183.0 248.1L180.0 249.3L177.0 250.2L174.0 251.2L171.0 252.1L168.0 253.1L165.0 254.1L162.0 255.0L159.0 256.0L156.0 257.1L153.0 258.2L150.0 259.4L147.0 260.7L144.0 261.9L141.0 263.1L138.0 264.3L135.0 265.5L132.0 266.7L129.0 268.0L126.0 269.2L123.0 270.4L120.0 271.6L117.0 272.9L114.0 274.1L111.0 275.3L108.0 276.5L105.0 277.7L102.0 279.0L99.0 280.2L96.0 281.4L93.0 282.7L90.0 283.9L87.0 285.1L84.0 286.3L81.0 287.6L78.0 288.8L75.0 290.0L72.0 291.2L69.0 292.5L66.0 293.7L63.0 294.8L60.0 295.6Z" fill="url(#al)" fill-opacity="1.0"/>
</g>
<g id="gr"><rect x="0" y="0" width="1131" height="564" fill="#000"/>
<path d="M540.0 275.3L543.0 275.2L546.0 275.1L549.0 275.1L552.0 275.0L555.0 274.9L558.0 274.8L561.0 274.7L564.0 274.6L567.0 274.5L570.0 274.4L573.0 274.3L576.0 274.2L579.0 274.1L582.0 274.0L585.0 274.0L588.0 273.9L591.0 273.8L594.0 273.7L597.0 273.5L600.0 273.2L603.0 272.7L606.0 272.1L609.0 271.6L612.0 271.0L615.0 270.5L618.0 269.9L621.0 269.3L624.0 268.7L627.0 268.0L630.0 267.1L633.0 266.1L636.0 265.1L639.0 264.0L642.0 263.0L645.0 262.0L648.0 261.0L651.0 260.0L654.0 258.9L657.0 257.9L660.0 256.9L663.0 255.9L666.0 254.9L669.0 253.9L672.0 252.9L675.0 251.9L678.0 250.8L681.0 249.7L684.0 248.5L687.0 247.1L690.0 245.7L693.0 244.1L696.0 242.6L699.0 240.9L702.0 239.2L705.0 237.4L708.0 235.6L711.0 233.8L714.0 231.9L717.0 230.0L720.0 228.0L723.0 226.1L726.0 224.3L729.0 222.6L732.0 220.9L735.0 219.2L738.0 217.6L741.0 216.2L744.0 214.9L747.0 213.7L750.0 212.6L753.0 211.5L756.0 210.3L759.0 209.2L762.0 208.1L765.0 207.0L768.0 205.9L771.0 204.9L774.0 203.9L777.0 203.0L780.0 202.1L783.0 201.3L786.0 200.4L789.0 199.5L792.0 198.6L795.0 197.7L798.0 196.8L801.0 195.9L804.0 195.0L807.0 194.1L810.0 193.2L813.0 192.3L816.0 191.5L819.0 190.6L822.0 189.6L825.0 188.5L828.0 187.4L831.0 186.4L834.0 185.5L837.0 184.8L840.0 184.6L843.0 184.8L846.0 185.2L849.0 185.7L852.0 186.2L855.0 186.9L858.0 187.7L861.0 188.6L864.0 189.6L867.0 190.5L870.0 191.5L873.0 192.5L876.0 193.6L879.0 194.8L882.0 196.0L885.0 197.5L888.0 199.0L891.0 200.5L894.0 202.0L897.0 203.4L900.0 204.7L903.0 206.2L906.0 207.8L909.0 209.6L912.0 211.3L915.0 213.1L918.0 214.7L921.0 216.3L924.0 217.8L927.0 219.3L930.0 220.8L933.0 222.3L936.0 223.7L939.0 225.2L942.0 226.7L945.0 228.2L948.0 229.7L951.0 231.3L954.0 232.9L957.0 234.5L960.0 236.1L963.0 237.8L966.0 239.4L969.0 241.0L972.0 242.7L975.0 244.3L978.0 246.0L981.0 247.8L984.0 249.7L987.0 251.9L990.0 254.2L993.0 256.5L996.0 258.7L999.0 260.8L1002.0 262.8L1005.0 264.7L1008.0 266.6L1011.0 268.3L1014.0 269.9L1017.0 271.3L1020.0 272.5L1023.0 273.7L1026.0 274.8L1029.0 276.0L1032.0 277.1L1035.0 278.3L1038.0 279.4L1041.0 280.5L1044.0 281.5L1047.0 282.4L1050.0 283.0L1053.0 283.6L1056.0 284.2L1059.0 284.8L1062.0 285.3L1065.0 285.9L1068.0 286.5L1071.0 287.0L1074.0 287.6L1077.0 288.2L1080.0 288.7L1083.0 289.3L1086.0 289.9L1089.0 290.4L1092.0 291.0L1095.0 291.6L1098.0 292.1L1101.0 292.6L1104.0 293.0L1104.0 313.0L1101.0 312.6L1098.0 312.1L1095.0 311.5L1092.0 311.0L1089.0 310.4L1086.0 309.8L1083.0 309.3L1080.0 308.7L1077.0 308.1L1074.0 307.6L1071.0 307.0L1068.0 306.4L1065.0 305.9L1062.0 305.3L1059.0 304.7L1056.0 304.2L1053.0 303.6L1050.0 303.0L1047.0 302.3L1044.0 301.5L1041.0 300.5L1038.0 299.4L1035.0 298.2L1032.0 297.1L1029.0 295.9L1026.0 294.8L1023.0 293.6L1020.0 292.5L1017.0 291.3L1014.0 289.9L1011.0 288.3L1008.0 286.5L1005.0 284.7L1002.0 282.8L999.0 280.8L996.0 278.7L993.0 276.5L990.0 274.2L987.0 271.9L984.0 269.6L981.0 267.4L978.0 265.4L975.0 263.6L972.0 261.7L969.0 259.9L966.0 258.0L963.0 256.2L960.0 254.3L957.0 252.5L954.0 250.6L951.0 248.8L948.0 247.2L945.0 245.6L942.0 244.1L939.0 242.6L936.0 241.1L933.0 239.5L930.0 238.0L927.0 236.5L924.0 235.0L921.0 233.4L918.0 231.8L915.0 230.1L912.0 228.3L909.0 226.5L906.0 224.8L903.0 223.1L900.0 221.6L897.0 220.2L894.0 218.9L891.0 217.8L888.0 216.7L885.0 215.6L882.0 214.5L879.0 213.3L876.0 212.1L873.0 211.1L870.0 210.1L867.0 209.1L864.0 208.2L861.0 207.3L858.0 206.4L855.0 205.5L852.0 204.7L849.0 204.1L846.0 203.6L843.0 203.1L840.0 202.8L837.0 202.9L834.0 203.3L831.0 204.0L828.0 204.8L825.0 205.5L822.0 206.2L819.0 207.0L816.0 207.9L813.0 208.9L810.0 209.8L807.0 210.7L804.0 211.6L801.0 212.5L798.0 213.4L795.0 214.3L792.0 215.3L789.0 216.2L786.0 217.1L783.0 218.0L780.0 219.0L777.0 219.9L774.0 220.8L771.0 221.8L768.0 222.8L765.0 223.9L762.0 225.1L759.0 226.3L756.0 227.4L753.0 228.6L750.0 229.7L747.0 230.9L744.0 232.1L741.0 233.4L738.0 234.9L735.0 236.5L732.0 238.2L729.0 239.9L726.0 241.7L723.0 243.6L720.0 245.5L717.0 247.5L714.0 249.4L711.0 251.4L708.0 253.2L705.0 255.1L702.0 256.9L699.0 258.7L696.0 260.3L693.0 262.0L690.0 263.5L687.0 265.0L684.0 266.4L681.0 267.7L678.0 268.8L675.0 269.9L672.0 271.0L669.0 272.1L666.0 273.2L663.0 274.3L660.0 275.4L657.0 276.5L654.0 277.6L651.0 278.7L648.0 279.8L645.0 280.9L642.0 282.0L639.0 283.1L636.0 284.2L633.0 285.2L630.0 286.3L627.0 287.2L624.0 288.0L621.0 288.6L618.0 289.2L615.0 289.9L612.0 290.5L609.0 291.1L606.0 291.7L603.0 292.3L600.0 292.8L597.0 293.2L594.0 293.5L591.0 293.6L588.0 293.7L585.0 293.9L582.0 294.0L579.0 294.1L576.0 294.2L573.0 294.3L570.0 294.4L567.0 294.4L564.0 294.5L561.0 294.6L558.0 294.7L555.0 294.8L552.0 294.9L549.0 295.0L546.0 295.1L543.0 295.2L540.0 295.2Z" fill="url(#ar)" fill-opacity="0.7"/>
<path d="M540.0 279.0L543.0 278.9L546.0 278.8L549.0 278.7L552.0 278.6L555.0 278.5L558.0 278.4L561.0 278.4L564.0 278.3L567.0 278.2L570.0 278.1L573.0 278.0L576.0 277.9L579.0 277.8L582.0 277.7L585.0 277.6L588.0 277.5L591.0 277.5L594.0 277.4L597.0 277.1L600.0 276.8L603.0 276.3L606.0 275.8L609.0 275.2L612.0 274.6L615.0 274.0L618.0 273.5L621.0 272.9L624.0 272.3L627.0 271.5L630.0 270.6L633.0 269.6L636.0 268.6L639.0 267.6L642.0 266.5L645.0 265.5L648.0 264.4L651.0 263.4L654.0 262.4L657.0 261.3L660.0 260.3L663.0 259.3L666.0 258.3L669.0 257.2L672.0 256.2L675.0 255.2L678.0 254.1L681.0 253.0L684.0 251.8L687.0 250.4L690.0 248.9L693.0 247.4L696.0 245.8L699.0 244.2L702.0 242.5L705.0 240.7L708.0 238.9L711.0 237.0L714.0 235.1L717.0 233.2L720.0 231.3L723.0 229.4L726.0 227.5L729.0 225.8L732.0 224.1L735.0 222.4L738.0 220.8L741.0 219.4L744.0 218.1L747.0 216.9L750.0 215.8L753.0 214.6L756.0 213.5L759.0 212.3L762.0 211.2L765.0 210.1L768.0 209.0L771.0 208.0L774.0 207.1L777.0 206.1L780.0 205.2L783.0 204.3L786.0 203.4L789.0 202.5L792.0 201.6L795.0 200.7L798.0 199.8L801.0 199.0L804.0 198.1L807.0 197.2L810.0 196.3L813.0 195.4L816.0 194.5L819.0 193.6L822.0 192.6L825.0 191.6L828.0 190.6L831.0 189.7L834.0 188.8L837.0 188.2L840.0 188.0L843.0 188.2L846.0 188.6L849.0 189.1L852.0 189.6L855.0 190.3L858.0 191.1L861.0 192.0L864.0 193.0L867.0 194.0L870.0 194.9L873.0 195.9L876.0 197.0L879.0 198.2L882.0 199.5L885.0 200.9L888.0 202.3L891.0 203.7L894.0 205.1L897.0 206.5L900.0 207.8L903.0 209.3L906.0 211.0L909.0 212.7L912.0 214.5L915.0 216.2L918.0 217.9L921.0 219.5L924.0 221.0L927.0 222.5L930.0 224.0L933.0 225.4L936.0 226.9L939.0 228.4L942.0 229.9L945.0 231.4L948.0 232.9L951.0 234.5L954.0 236.1L957.0 237.8L960.0 239.5L963.0 241.1L966.0 242.8L969.0 244.5L972.0 246.2L975.0 247.9L978.0 249.6L981.0 251.4L984.0 253.4L987.0 255.6L990.0 257.9L993.0 260.2L996.0 262.4L999.0 264.5L1002.0 266.5L1005.0 268.4L1008.0 270.2L1011.0 272.0L1014.0 273.6L1017.0 275.0L1020.0 276.2L1023.0 277.3L1026.0 278.5L1029.0 279.7L1032.0 280.8L1035.0 282.0L1038.0 283.1L1041.0 284.2L1044.0 285.2L1047.0 286.0L1050.0 286.7L1053.0 287.3L1056.0 287.9L1059.0 288.4L1062.0 289.0L1065.0 289.6L1068.0 290.1L1071.0 290.7L1074.0 291.3L1077.0 291.8L1080.0 292.4L1083.0 293.0L1086.0 293.5L1089.0 294.1L1092.0 294.7L1095.0 295.2L1098.0 295.8L1101.0 296.3L1104.0 296.7L1104.0 309.3L1101.0 308.9L1098.0 308.4L1095.0 307.8L1092.0 307.3L1089.0 306.7L1086.0 306.1L1083.0 305.6L1080.0 305.0L1077.0 304.4L1074.0 303.9L1071.0 303.3L1068.0 302.7L1065.0 302.2L1062.0 301.6L1059.0 301.0L1056.0 300.5L1053.0 299.9L1050.0 299.3L1047.0 298.6L1044.0 297.8L1041.0 296.8L1038.0 295.7L1035.0 294.6L1032.0 293.4L1029.0 292.3L1026.0 291.1L1023.0 289.9L1020.0 288.8L1017.0 287.6L1014.0 286.2L1011.0 284.6L1008.0 282.8L1005.0 281.0L1002.0 279.1L999.0 277.1L996.0 275.0L993.0 272.8L990.0 270.5L987.0 268.2L984.0 266.0L981.0 263.8L978.0 261.9L975.0 260.0L972.0 258.2L969.0 256.4L966.0 254.6L963.0 252.8L960.0 251.0L957.0 249.1L954.0 247.4L951.0 245.6L948.0 244.0L945.0 242.4L942.0 240.9L939.0 239.4L936.0 237.9L933.0 236.4L930.0 234.8L927.0 233.3L924.0 231.8L921.0 230.3L918.0 228.7L915.0 227.0L912.0 225.2L909.0 223.4L906.0 221.7L903.0 220.0L900.0 218.5L897.0 217.1L894.0 215.8L891.0 214.6L888.0 213.5L885.0 212.3L882.0 211.1L879.0 209.9L876.0 208.7L873.0 207.6L870.0 206.7L867.0 205.7L864.0 204.8L861.0 203.8L858.0 202.9L855.0 202.1L852.0 201.3L849.0 200.7L846.0 200.2L843.0 199.7L840.0 199.5L837.0 199.6L834.0 200.0L831.0 200.7L828.0 201.6L825.0 202.4L822.0 203.2L819.0 204.0L816.0 204.9L813.0 205.8L810.0 206.7L807.0 207.6L804.0 208.5L801.0 209.4L798.0 210.4L795.0 211.3L792.0 212.2L789.0 213.1L786.0 214.0L783.0 215.0L780.0 215.9L777.0 216.8L774.0 217.7L771.0 218.7L768.0 219.7L765.0 220.8L762.0 222.0L759.0 223.1L756.0 224.3L753.0 225.4L750.0 226.6L747.0 227.7L744.0 228.9L741.0 230.2L738.0 231.7L735.0 233.3L732.0 235.0L729.0 236.7L726.0 238.5L723.0 240.4L720.0 242.3L717.0 244.3L714.0 246.2L711.0 248.1L708.0 250.0L705.0 251.8L702.0 253.6L699.0 255.4L696.0 257.1L693.0 258.7L690.0 260.2L687.0 261.7L684.0 263.1L681.0 264.4L678.0 265.5L675.0 266.6L672.0 267.7L669.0 268.7L666.0 269.8L663.0 270.9L660.0 272.0L657.0 273.1L654.0 274.1L651.0 275.2L648.0 276.3L645.0 277.4L642.0 278.5L639.0 279.6L636.0 280.6L633.0 281.7L630.0 282.7L627.0 283.7L624.0 284.4L621.0 285.1L618.0 285.7L615.0 286.3L612.0 286.9L609.0 287.5L606.0 288.1L603.0 288.7L600.0 289.2L597.0 289.6L594.0 289.8L591.0 290.0L588.0 290.1L585.0 290.2L582.0 290.3L579.0 290.4L576.0 290.5L573.0 290.6L570.0 290.7L567.0 290.8L564.0 290.9L561.0 291.0L558.0 291.1L555.0 291.1L552.0 291.2L549.0 291.3L546.0 291.4L543.0 291.5L540.0 291.6Z" fill="url(#ar)" fill-opacity="0.667"/>
<path d="M540.0 282.4L543.0 282.3L546.0 282.2L549.0 282.1L552.0 282.1L555.0 282.0L558.0 281.9L561.0 281.8L564.0 281.7L567.0 281.6L570.0 281.5L573.0 281.4L576.0 281.3L579.0 281.2L582.0 281.1L585.0 281.0L588.0 280.9L591.0 280.9L594.0 280.7L597.0 280.5L600.0 280.2L603.0 279.7L606.0 279.1L609.0 278.5L612.0 277.9L615.0 277.3L618.0 276.8L621.0 276.2L624.0 275.5L627.0 274.8L630.0 273.9L633.0 272.9L636.0 271.9L639.0 270.8L642.0 269.8L645.0 268.7L648.0 267.7L651.0 266.6L654.0 265.6L657.0 264.5L660.0 263.5L663.0 262.4L666.0 261.4L669.0 260.4L672.0 259.3L675.0 258.3L678.0 257.2L681.0 256.1L684.0 254.9L687.0 253.5L690.0 252.0L693.0 250.5L696.0 248.9L699.0 247.2L702.0 245.5L705.0 243.7L708.0 241.9L711.0 240.0L714.0 238.1L717.0 236.2L720.0 234.2L723.0 232.3L726.0 230.5L729.0 228.7L732.0 227.0L735.0 225.3L738.0 223.8L741.0 222.3L744.0 221.0L747.0 219.8L750.0 218.7L753.0 217.5L756.0 216.4L759.0 215.3L762.0 214.1L765.0 213.0L768.0 211.9L771.0 210.9L774.0 209.9L777.0 209.0L780.0 208.1L783.0 207.2L786.0 206.3L789.0 205.4L792.0 204.5L795.0 203.6L798.0 202.7L801.0 201.8L804.0 200.9L807.0 200.0L810.0 199.1L813.0 198.2L816.0 197.3L819.0 196.4L822.0 195.5L825.0 194.5L828.0 193.6L831.0 192.7L834.0 191.8L837.0 191.2L840.0 191.1L843.0 191.3L846.0 191.7L849.0 192.2L852.0 192.8L855.0 193.5L858.0 194.3L861.0 195.2L864.0 196.2L867.0 197.1L870.0 198.1L873.0 199.1L876.0 200.2L879.0 201.4L882.0 202.6L885.0 204.0L888.0 205.3L891.0 206.7L894.0 208.0L897.0 209.3L900.0 210.7L903.0 212.2L906.0 213.9L909.0 215.6L912.0 217.4L915.0 219.1L918.0 220.8L921.0 222.4L924.0 223.9L927.0 225.4L930.0 226.9L933.0 228.4L936.0 229.9L939.0 231.4L942.0 232.9L945.0 234.4L948.0 235.9L951.0 237.5L954.0 239.2L957.0 240.9L960.0 242.6L963.0 244.3L966.0 246.0L969.0 247.7L972.0 249.4L975.0 251.1L978.0 252.9L981.0 254.8L984.0 256.8L987.0 259.0L990.0 261.3L993.0 263.6L996.0 265.8L999.0 267.9L1002.0 269.9L1005.0 271.8L1008.0 273.7L1011.0 275.4L1014.0 277.0L1017.0 278.4L1020.0 279.6L1023.0 280.8L1026.0 281.9L1029.0 283.1L1032.0 284.2L1035.0 285.4L1038.0 286.5L1041.0 287.6L1044.0 288.6L1047.0 289.5L1050.0 290.1L1053.0 290.7L1056.0 291.3L1059.0 291.9L1062.0 292.4L1065.0 293.0L1068.0 293.6L1071.0 294.1L1074.0 294.7L1077.0 295.3L1080.0 295.8L1083.0 296.4L1086.0 297.0L1089.0 297.5L1092.0 298.1L1095.0 298.7L1098.0 299.2L1101.0 299.7L1104.0 300.1L1104.0 305.9L1101.0 305.5L1098.0 305.0L1095.0 304.4L1092.0 303.9L1089.0 303.3L1086.0 302.7L1083.0 302.2L1080.0 301.6L1077.0 301.0L1074.0 300.5L1071.0 299.9L1068.0 299.3L1065.0 298.8L1062.0 298.2L1059.0 297.6L1056.0 297.1L1053.0 296.5L1050.0 295.9L1047.0 295.2L1044.0 294.4L1041.0 293.4L1038.0 292.3L1035.0 291.1L1032.0 290.0L1029.0 288.8L1026.0 287.7L1023.0 286.5L1020.0 285.4L1017.0 284.2L1014.0 282.8L1011.0 281.2L1008.0 279.4L1005.0 277.6L1002.0 275.7L999.0 273.7L996.0 271.6L993.0 269.4L990.0 267.1L987.0 264.8L984.0 262.6L981.0 260.5L978.0 258.5L975.0 256.7L972.0 254.9L969.0 253.2L966.0 251.4L963.0 249.6L960.0 247.8L957.0 246.1L954.0 244.3L951.0 242.6L948.0 241.0L945.0 239.4L942.0 237.9L939.0 236.4L936.0 234.9L933.0 233.4L930.0 231.9L927.0 230.4L924.0 228.9L921.0 227.3L918.0 225.7L915.0 224.1L912.0 222.3L909.0 220.5L906.0 218.8L903.0 217.1L900.0 215.6L897.0 214.2L894.0 212.9L891.0 211.7L888.0 210.4L885.0 209.2L882.0 208.0L879.0 206.7L876.0 205.5L873.0 204.5L870.0 203.5L867.0 202.5L864.0 201.6L861.0 200.6L858.0 199.7L855.0 198.9L852.0 198.2L849.0 197.6L846.0 197.1L843.0 196.6L840.0 196.4L837.0 196.5L834.0 197.0L831.0 197.7L828.0 198.6L825.0 199.5L822.0 200.3L819.0 201.2L816.0 202.1L813.0 203.0L810.0 203.9L807.0 204.8L804.0 205.7L801.0 206.6L798.0 207.5L795.0 208.4L792.0 209.3L789.0 210.3L786.0 211.2L783.0 212.1L780.0 213.0L777.0 213.9L774.0 214.8L771.0 215.8L768.0 216.8L765.0 217.9L762.0 219.0L759.0 220.2L756.0 221.3L753.0 222.5L750.0 223.7L747.0 224.8L744.0 226.0L741.0 227.3L738.0 228.8L735.0 230.4L732.0 232.0L729.0 233.8L726.0 235.5L723.0 237.4L720.0 239.3L717.0 241.3L714.0 243.2L711.0 245.1L708.0 247.0L705.0 248.8L702.0 250.6L699.0 252.4L696.0 254.0L693.0 255.6L690.0 257.2L687.0 258.7L684.0 260.1L681.0 261.3L678.0 262.4L675.0 263.5L672.0 264.6L669.0 265.6L666.0 266.7L663.0 267.8L660.0 268.8L657.0 269.9L654.0 271.0L651.0 272.0L648.0 273.1L645.0 274.2L642.0 275.2L639.0 276.3L636.0 277.4L633.0 278.4L630.0 279.5L627.0 280.4L624.0 281.1L621.0 281.8L618.0 282.4L615.0 283.0L612.0 283.6L609.0 284.2L606.0 284.8L603.0 285.3L600.0 285.8L597.0 286.2L594.0 286.4L591.0 286.6L588.0 286.7L585.0 286.8L582.0 286.9L579.0 287.0L576.0 287.1L573.0 287.2L570.0 287.3L567.0 287.4L564.0 287.4L561.0 287.5L558.0 287.6L555.0 287.7L552.0 287.8L549.0 287.9L546.0 288.0L543.0 288.1L540.0 288.2Z" fill="url(#ar)" fill-opacity="1.0"/>
</g>
</defs>
<g clip-path="url(#cl)"><use href="#gl" filter="url(#fd)"/></g><g clip-path="url(#cr)"><use href="#gr" filter="url(#fd)"/></g>
</svg>
<div id="mesh"><svg width="1131" height="564" viewBox="0 0 1131 564"><g clip-path="url(#cl)"><use href="#gl" filter="url(#fl)"/></g><g clip-path="url(#cr)"><use href="#gr" filter="url(#fl)"/></g></svg></div>
<svg width="1131" height="564" viewBox="0 0 1131 564">
<rect x="131.2" y="8.8" width="7.5" height="1" fill="#334"/>
<rect x="178.9" y="8.8" width="7.5" height="1" fill="#334"/>
<rect x="211.3" y="8.8" width="7.5" height="1" fill="#334"/>
<rect x="255.3" y="8.8" width="7.5" height="1" fill="#334"/>
<rect x="303.3" y="8.8" width="7.5" height="1" fill="#334"/>
<rect x="350.9" y="8.8" width="7.5" height="1" fill="#334"/>
<rect x="398.3" y="8.8" width="7.5" height="1" fill="#334"/>
<rect x="444.8" y="8.8" width="7.5" height="1" fill="#334"/>
<rect x="492.3" y="8.8" width="7.5" height="1" fill="#334"/>
<rect x="540.3" y="8.8" width="7.5" height="1" fill="#334"/>
<rect x="612.0" y="8.8" width="7.5" height="1" fill="#334"/>
<rect x="661.3" y="8.8" width="7.5" height="1" fill="#334"/>
<rect x="693.3" y="8.8" width="7.5" height="1" fill="#334"/>
<rect x="737.0" y="8.8" width="7.5" height="1" fill="#334"/>
<rect x="788.0" y="8.8" width="7.5" height="1" fill="#334"/>
<rect x="834.1" y="8.8" width="7.5" height="1" fill="#334"/>
<rect x="881.9" y="8.8" width="7.5" height="1" fill="#334"/>
<rect x="926.3" y="8.8" width="7.5" height="1" fill="#334"/>
<rect x="975.8" y="8.8" width="7.5" height="1" fill="#334"/>
<rect x="1022.0" y="8.8" width="7.5" height="1" fill="#334"/>
<path d="M102.5 10V487" fill="none" stroke="#000" stroke-width="1" opacity=".55"/><path d="M102.5 486.8V506.5" fill="none" stroke="#000" stroke-width="1.1"/><path d="M102 506.5H1063.5" fill="none" stroke="#000" stroke-width="1.2"/>
<rect x="580" y="9.9" width="1" height="476.8" fill="#fff" opacity="0.35"/>
<path d="M102.8 496.3h10.5" stroke="#000" stroke-width="1.1" opacity=".9"/><path d="M102.8 384h7M102.8 16.5h7" stroke="#000" stroke-width="1.1" opacity=".5"/>
<path d="M323.3 506.5v-10M1063 506.5v-10M837.3 506.5v-10" stroke="#000" stroke-width="1.1"/>
<g fill="#fff" stroke="none"><rect x="330.7" y="142.4" width="2.2" height="38"/><path d="M327.2 178.2L331.8 180.8L336.4 178.2L331.8 188.8Z"/>
<rect x="580.2" y="331" width="2.3" height="39.2"/><path d="M576.3 333.5L581.3 331L586.3 333.5L581.3 322.5Z"/></g>
<rect x="1076" y="9.5" width="20" height="498" fill="url(#cb)"/>
<path d="M1076 9.8H1096.8M1095.4 9.2V507.6M1076 507.1H1096" fill="none" stroke="#000" stroke-width="1.4"/>
<path d="M1076.3 9.2V507.6" fill="none" stroke="#000" stroke-width="0.7" opacity=".8"/>
<path d="M1076.5 65.5h5M1095 65.5h-5.5" stroke="#000" stroke-width="1" opacity=".8"/>
<text x="1096.4" y="75.15">30</text>
<path d="M1076.5 159.3h5M1095 159.3h-5.5" stroke="#000" stroke-width="1" opacity=".8"/>
<text x="1096.4" y="168.95000000000002">25</text>
<path d="M1076.5 253.3h5M1095 253.3h-5.5" stroke="#000" stroke-width="1" opacity=".8"/>
<text x="1096.4" y="262.95">20</text>
<path d="M1076.5 347.4h5M1095 347.4h-5.5" stroke="#000" stroke-width="1" opacity=".8"/>
<text x="1096.4" y="357.04999999999995">15</text>
<path d="M1076.5 441.8h5M1095 441.8h-5.5" stroke="#000" stroke-width="1" opacity=".8"/>
<text x="1096.4" y="451.45">10</text>
<text x="99.6" y="26.950000000000003" text-anchor="end">2000</text>
<text x="99.6" y="149.25" text-anchor="end">1500</text>
<text x="99.6" y="272.25" text-anchor="end">1000</text>
<text x="99.6" y="393.75" text-anchor="end">500</text>
<text x="99.6" y="506.25" text-anchor="end">0</text>
<text x="102.3" y="532.8" text-anchor="middle">0</text>
<text x="323.8" y="532.8" text-anchor="middle">.02</text>
<text x="581" y="532.8" text-anchor="middle">.04</text>
<text x="837.7" y="532.8" text-anchor="middle">.06</text>
<text x="1063.3" y="532.8" text-anchor="middle">.08</text>
<text x="582" y="556.5" text-anchor="middle">Time [s]</text>
<text transform="translate(29.3 257) rotate(-90)" text-anchor="middle">Frequency [Hz]</text>
</svg>
</body></html>
